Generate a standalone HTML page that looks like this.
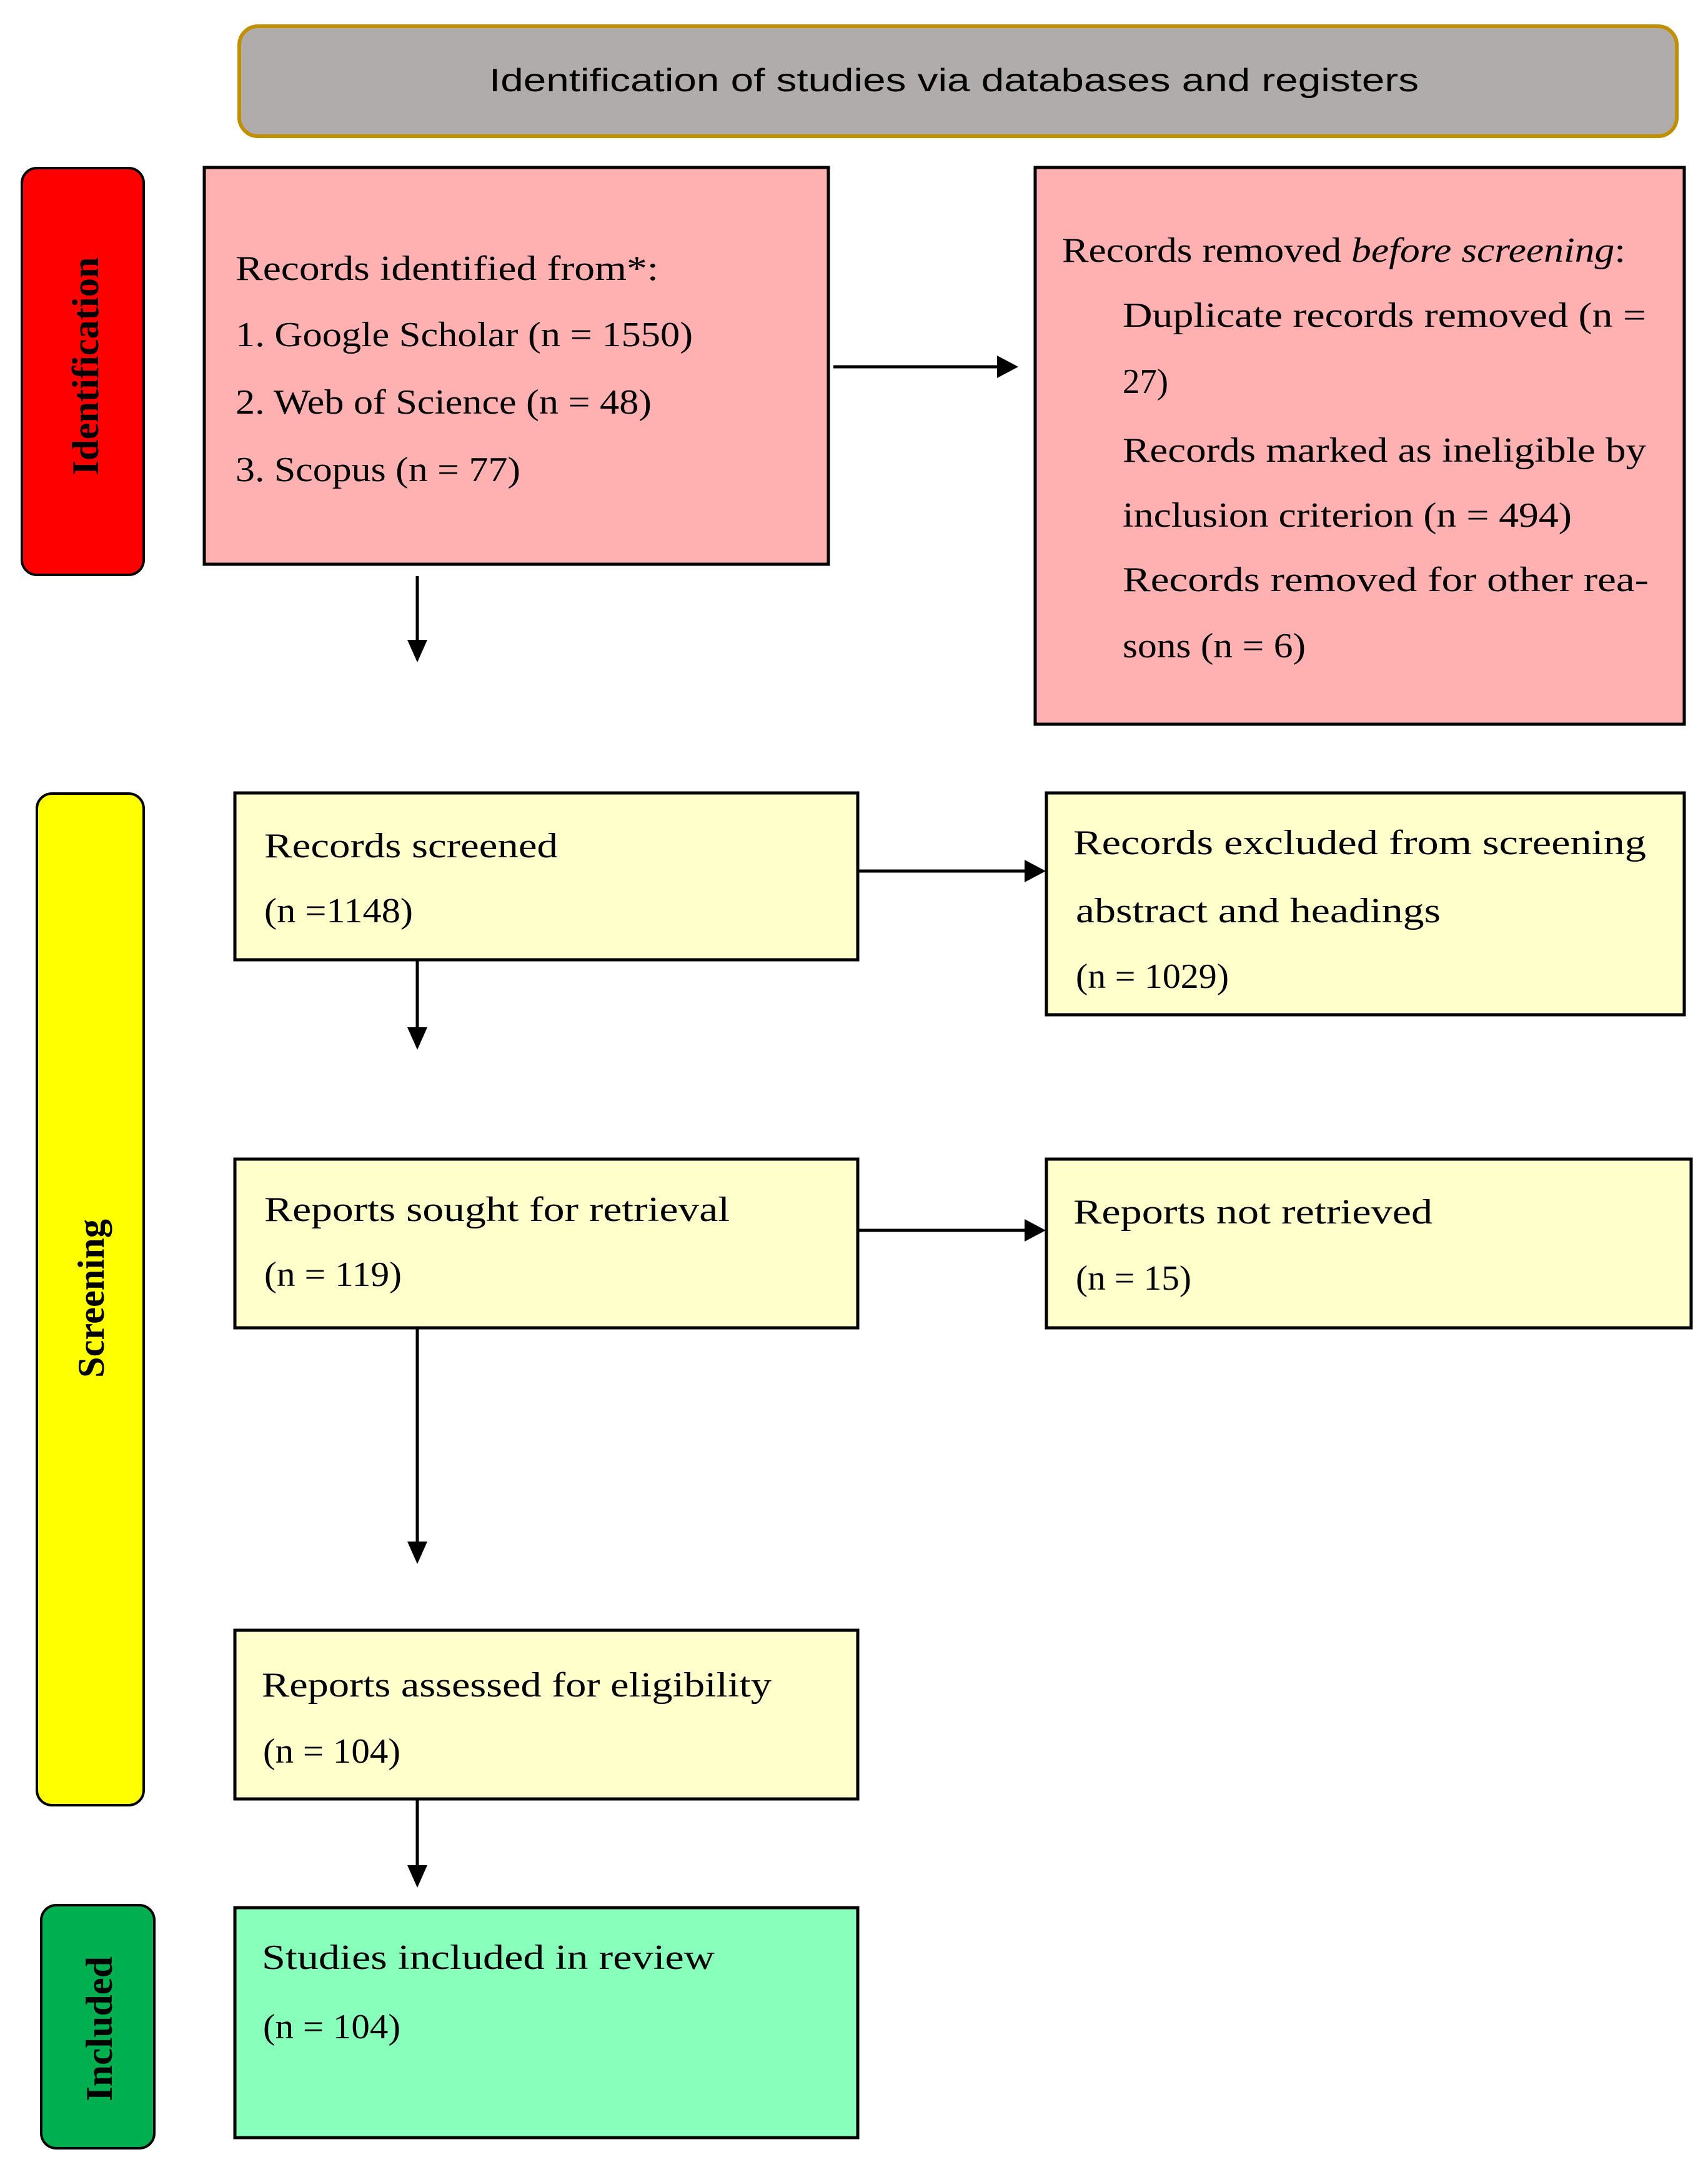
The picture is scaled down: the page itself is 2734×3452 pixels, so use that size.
<!DOCTYPE html>
<html><head><meta charset="utf-8"><style>html,body{margin:0;padding:0;background:#fff}svg{display:block}</style></head><body>
<svg width="2734" height="3452" viewBox="0 0 2734 3452" xmlns="http://www.w3.org/2000/svg">
<style>
.t{font-family:"Liberation Serif",serif;font-size:56px;fill:#000}
.s{font-family:"Liberation Serif",serif;font-size:60px;font-weight:bold;fill:#000}
</style>
<rect x="383" y="42" width="2301" height="176" rx="30" fill="#b0acab" stroke="#c09000" stroke-width="6"/>
<text x="783" y="146" font-family="Liberation Sans,sans-serif" font-size="52" textLength="1488" lengthAdjust="spacingAndGlyphs">Identification of studies via databases and registers</text>
<rect x="35" y="269" width="195" height="651" rx="24" fill="#ff0000" stroke="#000" stroke-width="4"/>
<text class="s" transform="translate(157,586) rotate(-90)" text-anchor="middle" textLength="349" lengthAdjust="spacingAndGlyphs">Identification</text>
<rect x="59" y="1270" width="171" height="1619" rx="24" fill="#ffff00" stroke="#000" stroke-width="4"/>
<text class="s" transform="translate(166,2078) rotate(-90)" text-anchor="middle" textLength="254" lengthAdjust="spacingAndGlyphs">Screening</text>
<rect x="66" y="3049" width="181" height="389" rx="24" fill="#00b050" stroke="#000" stroke-width="4"/>
<text class="s" transform="translate(179,3247) rotate(-90)" text-anchor="middle" textLength="232" lengthAdjust="spacingAndGlyphs">Included</text>
<rect x="327" y="268" width="999" height="635" fill="#ffb0b0" stroke="#000" stroke-width="5"/>
<rect x="1657" y="268" width="1039" height="891" fill="#ffb0b0" stroke="#000" stroke-width="5"/>
<rect x="376" y="1269" width="997" height="267" fill="#ffffcc" stroke="#000" stroke-width="5"/>
<rect x="1675" y="1269" width="1021" height="355" fill="#ffffcc" stroke="#000" stroke-width="5"/>
<rect x="376" y="1855" width="997" height="270" fill="#ffffcc" stroke="#000" stroke-width="5"/>
<rect x="1675" y="1855" width="1032" height="270" fill="#ffffcc" stroke="#000" stroke-width="5"/>
<rect x="376" y="2609" width="997" height="270" fill="#ffffcc" stroke="#000" stroke-width="5"/>
<rect x="376" y="3053" width="997" height="368" fill="#88ffbb" stroke="#000" stroke-width="5"/>
<g stroke="#000" stroke-width="5" fill="none">
<line x1="1334" y1="587" x2="1600" y2="587"/>
<line x1="668" y1="922" x2="668" y2="1030"/>
<line x1="1374" y1="1394" x2="1645" y2="1394"/>
<line x1="668" y1="1537" x2="668" y2="1650"/>
<line x1="1374" y1="1969" x2="1645" y2="1969"/>
<line x1="668" y1="2126" x2="668" y2="2475"/>
<line x1="668" y1="2880" x2="668" y2="2990"/>
</g>
<g fill="#000">
<polygon points="1596,569 1630,587 1596,605"/>
<polygon points="1640,1376 1674,1394 1640,1412"/>
<polygon points="1640,1951 1674,1969 1640,1987"/>
<polygon points="652,1024 684,1024 668,1060"/>
<polygon points="652,1644 684,1644 668,1680"/>
<polygon points="652,2467 684,2467 668,2503"/>
<polygon points="652,2985 684,2985 668,3021"/>
</g>
<g>
<text class="t" x="377" y="448" textLength="677" lengthAdjust="spacingAndGlyphs">Records identified from*:</text>
<text class="t" x="377" y="554" textLength="732" lengthAdjust="spacingAndGlyphs">1. Google Scholar (n = 1550)</text>
<text class="t" x="377" y="662" textLength="666" lengthAdjust="spacingAndGlyphs">2. Web of Science (n = 48)</text>
<text class="t" x="377" y="770" textLength="456" lengthAdjust="spacingAndGlyphs">3. Scopus (n = 77)</text>
<text class="t" x="1700" y="419" textLength="902" lengthAdjust="spacingAndGlyphs">Records removed <tspan font-style="italic">before screening</tspan>:</text>
<text class="t" x="1797" y="523" textLength="838" lengthAdjust="spacingAndGlyphs">Duplicate records removed (n =</text>
<text class="t" x="1797" y="629" textLength="73" lengthAdjust="spacingAndGlyphs">27)</text>
<text class="t" x="1797" y="739" textLength="838" lengthAdjust="spacingAndGlyphs">Records marked as ineligible by</text>
<text class="t" x="1797" y="843" textLength="719" lengthAdjust="spacingAndGlyphs">inclusion criterion (n = 494)</text>
<text class="t" x="1797" y="946" textLength="842" lengthAdjust="spacingAndGlyphs">Records removed for other rea-</text>
<text class="t" x="1797" y="1052" textLength="293" lengthAdjust="spacingAndGlyphs">sons (n = 6)</text>
<text class="t" x="423" y="1372" textLength="470" lengthAdjust="spacingAndGlyphs">Records screened</text>
<text class="t" x="423" y="1476" textLength="238" lengthAdjust="spacingAndGlyphs">(n =1148)</text>
<text class="t" x="1718" y="1367" textLength="917" lengthAdjust="spacingAndGlyphs">Records excluded from screening</text>
<text class="t" x="1722" y="1476" textLength="584" lengthAdjust="spacingAndGlyphs">abstract and headings</text>
<text class="t" x="1722" y="1581" textLength="245" lengthAdjust="spacingAndGlyphs">(n = 1029)</text>
<text class="t" x="423" y="1954" textLength="745" lengthAdjust="spacingAndGlyphs">Reports sought for retrieval</text>
<text class="t" x="423" y="2058" textLength="220" lengthAdjust="spacingAndGlyphs">(n = 119)</text>
<text class="t" x="1718" y="1958" textLength="575" lengthAdjust="spacingAndGlyphs">Reports not retrieved</text>
<text class="t" x="1722" y="2064" textLength="185" lengthAdjust="spacingAndGlyphs">(n = 15)</text>
<text class="t" x="419" y="2715" textLength="816" lengthAdjust="spacingAndGlyphs">Reports assessed for eligibility</text>
<text class="t" x="421" y="2821" textLength="220" lengthAdjust="spacingAndGlyphs">(n = 104)</text>
<text class="t" x="419" y="3151" textLength="725" lengthAdjust="spacingAndGlyphs">Studies included in review</text>
<text class="t" x="421" y="3262" textLength="220" lengthAdjust="spacingAndGlyphs">(n = 104)</text>
</g>
</svg>
</body></html>
